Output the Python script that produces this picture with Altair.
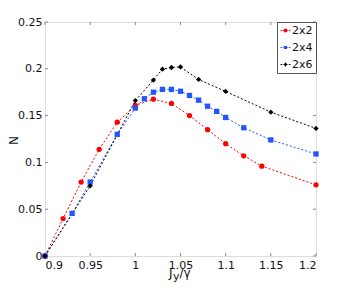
import altair as alt
import pandas as pd

# ---- data ----
series_names = ["2x2", "2x4", "2x6"]

red_x = [0.90, 0.92, 0.94, 0.96, 0.98, 1.00, 1.02, 1.04, 1.06, 1.08, 1.10, 1.12, 1.14, 1.20]
red_y = [0.0, 0.040, 0.079, 0.114, 0.143, 0.161, 0.1675, 0.163, 0.150, 0.135, 0.120, 0.107, 0.096, 0.076]

blue_x = [0.90, 0.93, 0.95, 0.98, 1.00, 1.01, 1.02, 1.03, 1.04, 1.05, 1.06, 1.07, 1.08, 1.09, 1.10, 1.12, 1.15, 1.20]
blue_y = [0.0, 0.0455, 0.079, 0.130, 0.158, 0.168, 0.175, 0.178, 0.178, 0.176, 0.1715, 0.1665, 0.160, 0.1545, 0.148, 0.137, 0.124, 0.109]

black_x = [0.90, 0.95, 1.00, 1.02, 1.03, 1.04, 1.05, 1.07, 1.10, 1.15, 1.20]
black_y = [0.0, 0.075, 0.166, 0.188, 0.1996, 0.2014, 0.202, 0.1886, 0.1758, 0.1537, 0.1363]

x_ticks = [0.9, 0.95, 1.0, 1.05, 1.1, 1.15, 1.2]
y_ticks = [0.0, 0.05, 0.1, 0.15, 0.2, 0.25]

y_title = "N"
x_title_parts = ["J", "y", "/γ"]   # J_y / gamma

colors = ["#ff0000", "#2255ff", "#000000"]

rows = []
for name, xs, ys in zip(series_names, [red_x, blue_x, black_x], [red_y, blue_y, black_y]):
    for i, (a, b) in enumerate(zip(xs, ys)):
        rows.append({"series": name, "x": a, "N": b, "order": i})
df = pd.DataFrame(rows)

W, H = 271, 234
FONT = "DejaVu Sans"
FRAME = "#8a8a8a"
TXT = "#111111"

xscale = alt.Scale(domain=[0.9, 1.2], nice=False, zero=False)
yscale = alt.Scale(domain=[0, 0.25], nice=False)
cscale = alt.Scale(domain=series_names, range=colors)

base = alt.Chart(df)

lines = base.mark_line(strokeWidth=1, strokeDash=[2, 2]).encode(
    x=alt.X("x:Q", scale=xscale,
            axis=alt.Axis(values=x_ticks, format="~g", ticks=False, domain=False, grid=False,
                          labelPadding=3, labelFontSize=11, labelFont=FONT, labelColor=TXT,
                          title=None)),
    y=alt.Y("N:Q", scale=yscale,
            axis=alt.Axis(values=y_ticks, format="~g", ticks=False, domain=False, grid=False,
                          labelPadding=3, labelFontSize=11, labelFont=FONT, labelColor=TXT,
                          title=y_title, titleFont=FONT, titleFontSize=12, titleFontWeight="normal",
                          titleColor=TXT, titleX=-28, titleY=H / 2 + 1, titleAngle=-90,
                          titleBaseline="alphabetic", titleAlign="center")),
    color=alt.Color("series:N", scale=cscale, legend=None),
    order="order:Q",
    detail="series:N",
)

pts = base.mark_point(filled=True, opacity=1, size=28).encode(
    x="x:Q",
    y="N:Q",
    color=alt.Color("series:N", scale=cscale, legend=None),
    shape=alt.Shape("series:N",
                    scale=alt.Scale(domain=series_names, range=["circle", "square", "diamond"]),
                    legend=None),
)

# legend symbols: dashed line segment + marker
dash = "M-1,-0.08H-0.72V0.08H-1Z M-0.55,-0.08H-0.4V0.08H-0.55Z M0.4,-0.08H0.55V0.08H0.4Z M0.72,-0.08H1V0.08H0.72Z "
leg_paths = [
    dash + "M-0.38,0A0.38,0.38 0 1,0 0.38,0A0.38,0.38 0 1,0 -0.38,0Z",
    dash + "M-0.32,-0.32H0.32V0.32H-0.32Z",
    dash + "M0,-0.45L0.34,0L0,0.45L-0.34,0Z",
]
leg_props = dict(title=None, orient="top-right", offset=0,
                 fillColor="white", strokeColor="#555",
                 padding=3, rowPadding=5,
                 symbolSize=100, symbolStrokeWidth=0, symbolOpacity=1,
                 labelFont=FONT, labelFontSize=11, labelColor=TXT,
                 labelOffset=1)
legend_layer = base.transform_filter("false").mark_point(filled=True, opacity=1).encode(
    x="x:Q",
    y="N:Q",
    color=alt.Color("series:N", scale=cscale, legend=alt.Legend(**leg_props)),
    shape=alt.Shape("series:N",
                    scale=alt.Scale(domain=series_names, range=leg_paths),
                    legend=alt.Legend(**leg_props)),
)

xt = pd.DataFrame({"v": x_ticks})
yt = pd.DataFrame({"v": y_ticks})
TK = 3
tick_b = alt.Chart(xt).mark_rule(color=FRAME, strokeWidth=1).encode(
    x="v:Q", y=alt.value(H), y2=alt.value(H - TK))
tick_t = alt.Chart(xt).mark_rule(color=FRAME, strokeWidth=1).encode(
    x="v:Q", y=alt.value(0), y2=alt.value(TK))
tick_l = alt.Chart(yt).mark_rule(color=FRAME, strokeWidth=1).encode(
    y="v:Q", x=alt.value(0), x2=alt.value(TK))
tick_r = alt.Chart(yt).mark_rule(color=FRAME, strokeWidth=1).encode(
    y="v:Q", x=alt.value(W), x2=alt.value(W - TK))

# x title  J_y/γ  (J, subscript y, /γ)
def part(txt, px, py, fs):
    return alt.Chart(pd.DataFrame({"t": [txt]})).mark_text(
        font=FONT, fontSize=fs, align="left", baseline="alphabetic", color=TXT
    ).encode(text="t:N", x=alt.value(px), y=alt.value(py))

t_j = part(x_title_parts[0], 124, 254.5, 12)
t_y = part(x_title_parts[1], 128, 257.5, 11)
t_g = part(x_title_parts[2], 134.5, 254.5, 12)

chart = alt.layer(
    tick_b, tick_t, tick_l, tick_r, lines, pts, legend_layer, t_j, t_y, t_g
).resolve_scale(shape="independent", color="independent").properties(
    width=W, height=H,
    padding={"left": 37, "top": 14, "right": 25, "bottom": 26},
    autosize=alt.AutoSizeParams(type="none"),
).configure_view(stroke=FRAME, strokeWidth=1).configure(background="white")

chart.save("out.html", embed_options={"renderer": "svg", "actions": False})
